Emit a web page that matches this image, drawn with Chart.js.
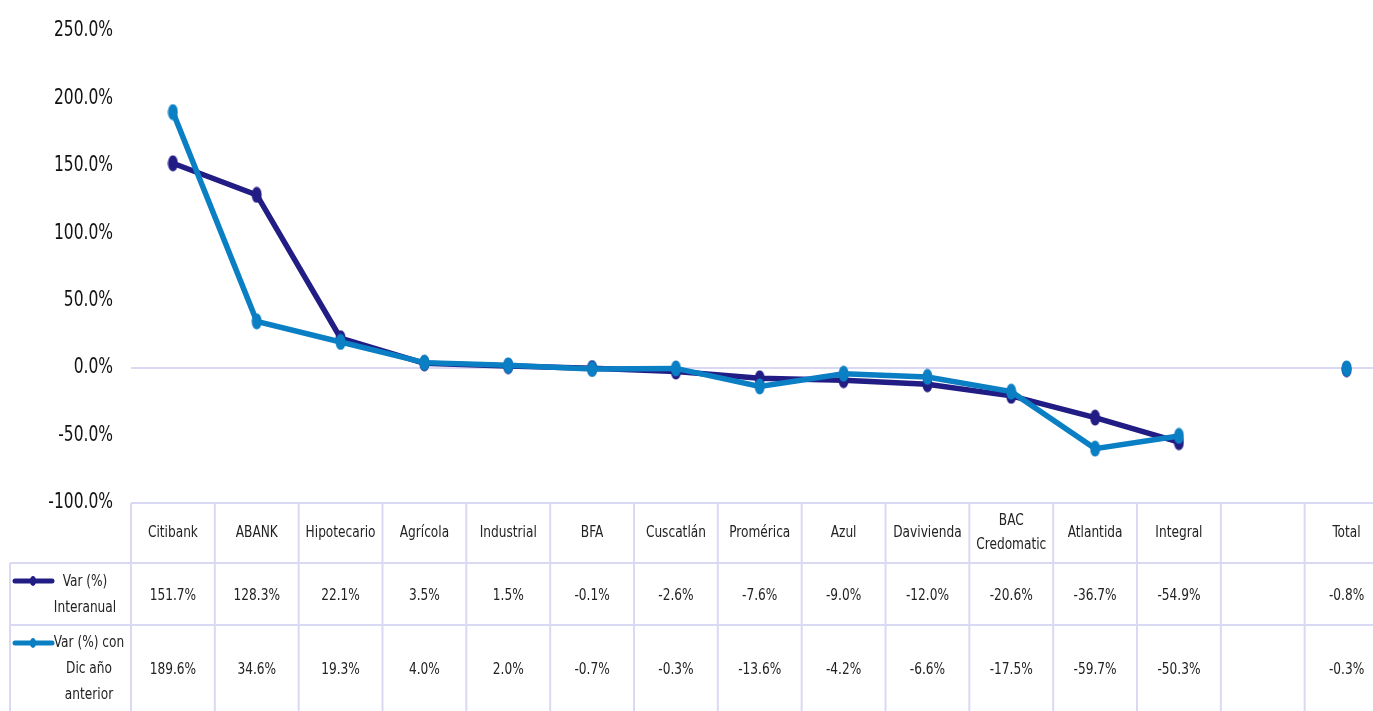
<!DOCTYPE html>
<html>
<head>
<meta charset="utf-8">
<script src="https://cdn.jsdelivr.net/npm/chart.js@4.4.1/dist/chart.umd.min.js"></script>
<style>
  html, body { margin: 0; padding: 0; background: #fff; overflow: hidden; }
  #wrap { width: 1398px; height: 711px; }
</style>
</head>
<body>
<div id="wrap"><canvas id="myChart" width="1398" height="711"></canvas></div>
<script>
// Datos del gráfico
const bancos = ['Citibank', 'ABANK', 'Hipotecario', 'Agrícola', 'Industrial', 'BFA', 'Cuscatlán',
  'Promérica', 'Azul', 'Davivienda', 'BAC\nCredomatic', 'Atlantida', 'Integral', '', 'Total']
const varInteranual = [151.7, 128.3, 22.1, 3.5, 1.5, -0.1, -2.6, -7.6, -9.0, -12.0, -20.6, -36.7, -54.9, null, -0.8]
const varDicAnterior = [189.6, 34.6, 19.3, 4.0, 2.0, -0.7, -0.3, -13.6, -4.2, -6.6, -17.5, -59.7, -50.3, null, -0.3]
const serieNombres = [['Var (%)', 'Interanual'], ['Var (%) con', 'Dic año', 'anterior']]
const yMin = -100
const yMax = 250
const yPaso = 50

const FONT = "'DejaVu Sans Condensed', 'Liberation Sans Narrow', sans-serif"
const COLOR_OSCURO = '#221d84'
const COLOR_CLARO = '#0a7fc4'
const COLOR_LINEA = '#d9d9f4'
const COMPRIME = 0.82 // el original usa una fuente más estrecha

// Marcador ovalado (como el de Excel)
function crearMarcador(color) {
  const c = document.createElement('canvas')
  c.width = 11
  c.height = 17
  const g = c.getContext('2d')
  g.fillStyle = color
  g.beginPath()
  g.ellipse(5.5, 8.5, 5, 8, 0, 0, Math.PI * 2)
  g.fill()
  return c
}

// Escribir texto comprimido horizontalmente
function textoEstrecho(ctx, t, x, y) {
  ctx.save()
  ctx.translate(x, y)
  ctx.scale(COMPRIME, 1)
  ctx.fillText(t, 0, 0)
  ctx.restore()
}

// Plugin para dibujar la tabla de datos y las etiquetas del eje Y
const tablaPlugin = {
  id: 'tablaDatos',
  afterDraw(chart) {
    const ctx = chart.ctx
    const x = chart.scales.x
    const y = chart.scales.y
    const area = chart.chartArea
    const colW = x.width / bancos.length
    const top = area.bottom
    const fila1 = top + 60
    const fila2 = top + 122
    const fondo = chart.height

    ctx.save()
    // etiquetas del eje Y
    ctx.fillStyle = '#111'
    ctx.font = '21px ' + FONT
    ctx.textAlign = 'right'
    ctx.textBaseline = 'middle'
    y.ticks.forEach(t => {
      textoEstrecho(ctx, t.value.toFixed(1) + '%', 113, y.getPixelForValue(t.value))
    })

    ctx.strokeStyle = COLOR_LINEA
    ctx.lineWidth = 2
    ctx.beginPath()
    ctx.moveTo(area.left, top); ctx.lineTo(area.right, top)
    ctx.moveTo(10, fila1); ctx.lineTo(area.right, fila1)
    ctx.moveTo(10, fila2); ctx.lineTo(area.right, fila2)
    ctx.moveTo(10, fila1); ctx.lineTo(10, fondo)
    for (let i = 0; i <= bancos.length; i++) {
      const lx = area.left + i * colW
      ctx.moveTo(lx, top); ctx.lineTo(lx, fondo)
    }
    ctx.stroke()

    ctx.fillStyle = '#222'
    ctx.font = '16.5px ' + FONT
    ctx.textAlign = 'center'

    bancos.forEach((b, i) => {
      const cx = x.getPixelForValue(i)
      const partes = b.split('\n')
      partes.forEach((p, k) => {
        textoEstrecho(ctx, p, cx, (top + fila1) / 2 + (k - (partes.length - 1) / 2) * 24)
      })
      if (varInteranual[i] !== null) {
        textoEstrecho(ctx, varInteranual[i].toFixed(1) + '%', cx, (fila1 + fila2) / 2 + 2)
      }
      if (varDicAnterior[i] !== null) {
        textoEstrecho(ctx, varDicAnterior[i].toFixed(1) + '%', cx, fila2 + 45)
      }
    })

    // Leyenda dentro de la tabla
    const leyendas = [
      { color: COLOR_OSCURO, y: fila1 + 18, textos: serieNombres[0], tx: 85, ty: [fila1 + 19, fila1 + 45] },
      { color: COLOR_CLARO, y: fila2 + 18, textos: serieNombres[1], tx: 89, ty: [fila2 + 18, fila2 + 44, fila2 + 70] }
    ]
    leyendas.forEach(l => {
      ctx.strokeStyle = l.color
      ctx.lineWidth = 5
      ctx.lineCap = 'round'
      ctx.beginPath()
      ctx.moveTo(15, l.y); ctx.lineTo(52, l.y)
      ctx.stroke()
      ctx.fillStyle = l.color
      ctx.beginPath()
      ctx.ellipse(33, l.y, 3, 5, 0, 0, Math.PI * 2)
      ctx.fill()
      ctx.fillStyle = '#222'
      l.textos.forEach((t, k) => textoEstrecho(ctx, t, l.tx, l.ty[k]))
    })
    ctx.restore()
  }
}

const ctx = document.getElementById('myChart').getContext('2d')
new Chart(ctx, {
  type: 'line',
  data: {
    labels: bancos,
    datasets: [
      {
        label: 'Var (%) Interanual',
        data: varInteranual,
        borderColor: COLOR_OSCURO,
        backgroundColor: COLOR_OSCURO,
        borderWidth: 5.5,
        pointStyle: crearMarcador(COLOR_OSCURO),
        order: 1
      },
      {
        label: 'Var (%) con Dic año anterior',
        data: varDicAnterior,
        borderColor: COLOR_CLARO,
        backgroundColor: COLOR_CLARO,
        borderWidth: 5.5,
        pointStyle: crearMarcador(COLOR_CLARO),
        order: 0
      }
    ]
  },
  options: {
    responsive: false,
    animation: false,
    devicePixelRatio: 1,
    spanGaps: false,
    layout: { padding: { top: 27, bottom: 208, right: 4, left: 0 } },
    plugins: {
      legend: { display: false },
      tooltip: { enabled: false }
    },
    scales: {
      x: {
        type: 'category',
        offset: true,
        display: false
      },
      y: {
        min: yMin,
        max: yMax,
        afterFit(scale) { scale.width = 131 },
        border: { display: false },
        grid: {
          drawTicks: false,
          lineWidth: 2,
          color: c => (c.tick && c.tick.value === 0 ? COLOR_LINEA : 'rgba(0,0,0,0)')
        },
        ticks: {
          stepSize: yPaso,
          padding: 18,
          color: 'rgba(0,0,0,0)',
          font: { family: FONT, size: 21 },
          callback: v => v.toFixed(1) + '%'
        }
      }
    }
  },
  plugins: [tablaPlugin]
})
</script>
</body>
</html>
